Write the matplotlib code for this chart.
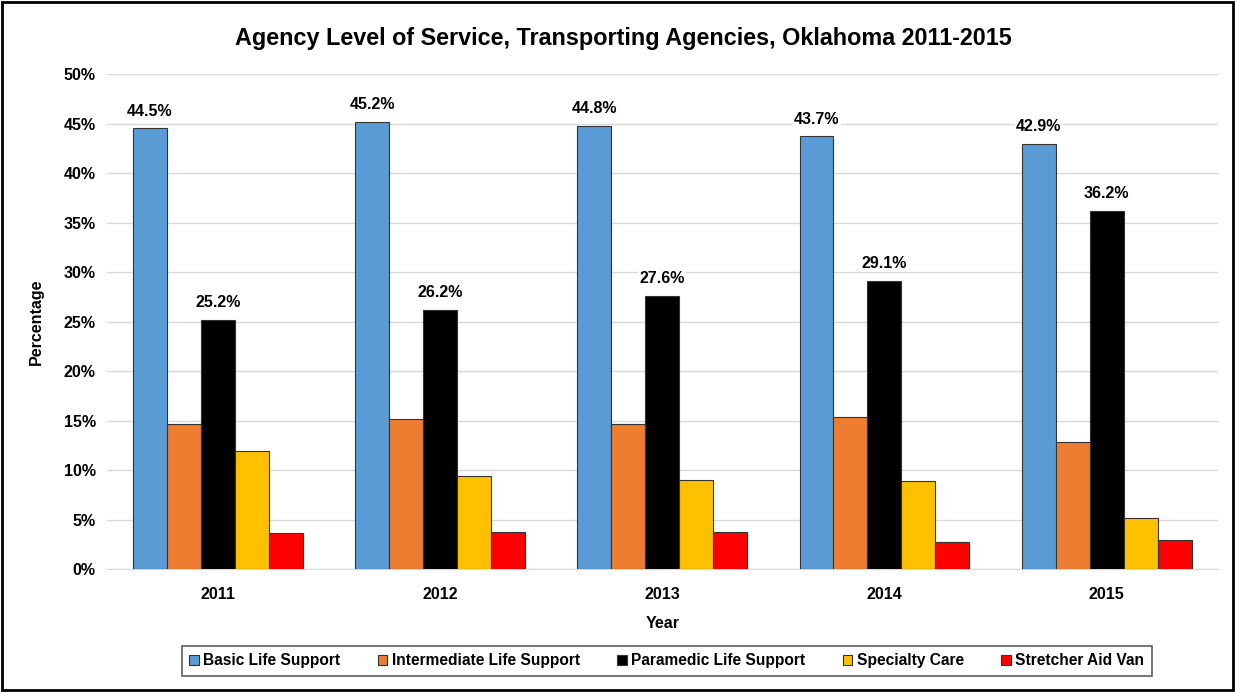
import numpy as np
import matplotlib.pyplot as plt
from matplotlib.patches import Rectangle

plt.rcParams['font.family'] = ['Liberation Sans Narrow', 'Liberation Sans', 'DejaVu Sans']

years = ['2011', '2012', '2013', '2014', '2015']
series = ['Basic Life Support', 'Intermediate Life Support', 'Paramedic Life Support',
          'Specialty Care', 'Stretcher Aid Van']
basic = [44.5, 45.2, 44.8, 43.7, 42.9]
intermediate = [14.6, 15.2, 14.7, 15.4, 12.8]
paramedic = [25.2, 26.2, 27.6, 29.1, 36.2]
specialty = [11.9, 9.4, 9.0, 8.9, 5.2]
stretcher = [3.6, 3.7, 3.7, 2.7, 2.9]
colors = ['#5B9BD5', '#ED7D31', '#000000', '#FFC000', '#FF0000']

fig = plt.figure(figsize=(12.35, 6.92), dpi=100)
ax = fig.add_axes([0.0866, 0.1777, 0.8994, 0.7153])

x = np.arange(len(years))
w = 0.153
data = [basic, intermediate, paramedic, specialty, stretcher]
for i, vals in enumerate(data):
    bars = ax.bar(x + (i - 2) * w, vals, width=w, color=colors[i], edgecolor='#333333',
                  linewidth=0.8, label=series[i], zorder=3)
    if i in (0, 2):
        for b, v in zip(bars, vals):
            ax.text(b.get_x() + b.get_width() / 2, v + 1.0, '%.1f%%' % v,
                    ha='center', va='bottom', fontsize=11.5, fontweight='bold',
                    bbox=dict(facecolor='white', edgecolor='none', pad=1), zorder=4)

ax.set_ylim(0, 50)
ax.set_xlim(-0.5, 4.5)
ax.set_yticks(np.arange(0, 51, 5))
ax.set_yticklabels(['%d%%' % t for t in range(0, 51, 5)], fontsize=11.5, fontweight='bold')
ax.set_xticks(x)
ax.set_xticklabels(years, fontsize=11.5, fontweight='bold')
ax.tick_params(length=0, pad=8)
ax.tick_params(axis='x', pad=13)
ax.grid(axis='y', color='#D9D9D9', linewidth=1, zorder=0)
for s in ['top', 'right', 'left']:
    ax.spines[s].set_visible(False)
ax.spines['bottom'].set_color('#D9D9D9')
ax.set_ylabel('Percentage', fontsize=11.5, fontweight='bold', labelpad=14)
ax.set_xlabel('Year', fontsize=11.5, fontweight='bold', labelpad=10)

fig.text(0.5045, 0.945, 'Agency Level of Service, Transporting Agencies, Oklahoma 2011-2015',
         ha='center', va='center', fontsize=16.8, fontweight='bold')

leg = fig.legend(loc='center', bbox_to_anchor=(0.540, 0.045), ncol=5,
                 prop={'weight': 'bold', 'size': 11.2}, frameon=True, fancybox=False,
                 handlelength=0.6, handleheight=0.6, handletextpad=0.3, columnspacing=2.4,
                 borderpad=0.5)
leg.get_frame().set_edgecolor('#333333')
leg.get_frame().set_linewidth(1.2)

fig.patches.append(Rectangle((0.002, 0.003), 0.996, 0.994, transform=fig.transFigure,
                             fill=False, edgecolor='black', linewidth=2))

fig.savefig('out.png', dpi=100)
